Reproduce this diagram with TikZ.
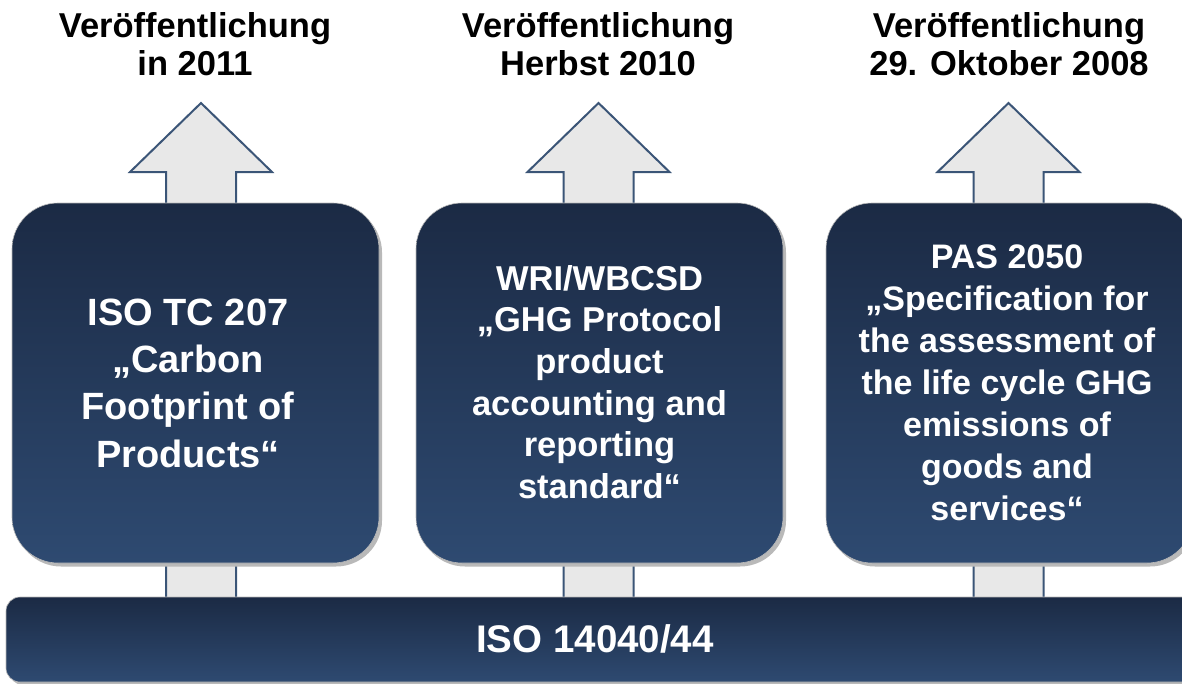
\documentclass[tikz,border=0pt]{standalone}
\usepackage{fontspec}
\setmainfont{Liberation Sans}
\definecolor{navytop}{HTML}{1B2A44}
\definecolor{navybot}{HTML}{2E4A71}
\definecolor{arrowfill}{HTML}{E8E8E8}
\definecolor{arrowline}{HTML}{3B5577}
\begin{document}
\begin{tikzpicture}[x=1pt,y=-1pt,
  boxshadow/.style={rounded corners=46pt, minimum width=367pt, minimum height=360pt, inner sep=0pt, fill=gray!55},
  stdbox/.style={rounded corners=46pt, minimum width=367pt, minimum height=360pt, inner sep=0pt, top color=navytop, bottom color=navybot, draw=gray!55, line width=0.6pt},
  barshadow/.style={rounded corners=14pt, minimum width=1200pt, minimum height=85pt, inner sep=0pt, fill=gray!55},
  basebar/.style={rounded corners=14pt, minimum width=1200pt, minimum height=85pt, inner sep=0pt, top color=navytop, bottom color=navybot, draw=gray!55, line width=0.6pt},
  uparrow/.style={fill=arrowfill, draw=arrowline, line width=2pt, line join=miter},
  toplabel/.style={anchor=north, inner sep=0pt, align=center, text=black, font=\fontsize{34.5}{38}\selectfont\bfseries},
  boxtext/.style={inner sep=0pt, align=center, text=white, font=\bfseries},
]
\useasboundingbox (0,0) rectangle (1182,683);
\clip (0,0) rectangle (1182,683);

% arrows (behind boxes)
\foreach \cx/\nm in {201/a1, 598.5/a2, 1008.5/a3}{
  \coordinate (\nm base) at (\cx,610);
  \coordinate (\nm tip) at (\cx,103);
  \draw[uparrow] (\cx-35,610) -- (\cx-35,172) -- (\cx-71,172) -- (\nm tip) -- (\cx+71,172) -- (\cx+35,172) -- (\cx+35,610) -- cycle;
}

% top labels
\node[toplabel] (lab1) at (195,12) {Veröffentlichung\\in 2011};
\node[toplabel] (lab2) at (598,12) {Veröffentlichung\\Herbst 2010};
\node[toplabel] (lab3) at (1009,12) {Veröffentlichung\\29. Oktober 2008};

% boxes
\node[boxshadow] (s1) at (198.5,386.5) {};
\node[boxshadow] (s2) at (602.5,386.5) {};
\node[boxshadow] (s3) at (1012.5,386.5) {};
\node[stdbox] (b1) at (195.5,383) {};
\node[stdbox] (b2) at (599.5,383) {};
\node[stdbox] (b3) at (1009.5,383) {};

\node[boxtext, font=\fontsize{38}{47.3}\selectfont\bfseries] (t1) at (188,383)
  {ISO TC 207\\„Carbon\\Footprint of\\Products“};
\node[boxtext, font=\fontsize{34.5}{41.6}\selectfont\bfseries] (t2) at (599.5,382)
  {WRI/WBCSD\\„GHG Protocol\\product\\accounting and\\reporting\\standard“};
\node[boxtext, font=\fontsize{34}{42}\selectfont\bfseries] (t3) at (1007,383)
  {PAS 2050\\„Specification for\\the assessment of\\the life cycle GHG\\emissions of\\goods and\\services“};

% base bar
\node[barshadow] (bs) at (609,642.5) {};
\node[basebar] (bar) at (606,639.5) {};
\node[boxtext, anchor=base, font=\fontsize{38.5}{46}\selectfont\bfseries] (bt) at (595,652) {ISO 14040/44};
\end{tikzpicture}
\end{document}
